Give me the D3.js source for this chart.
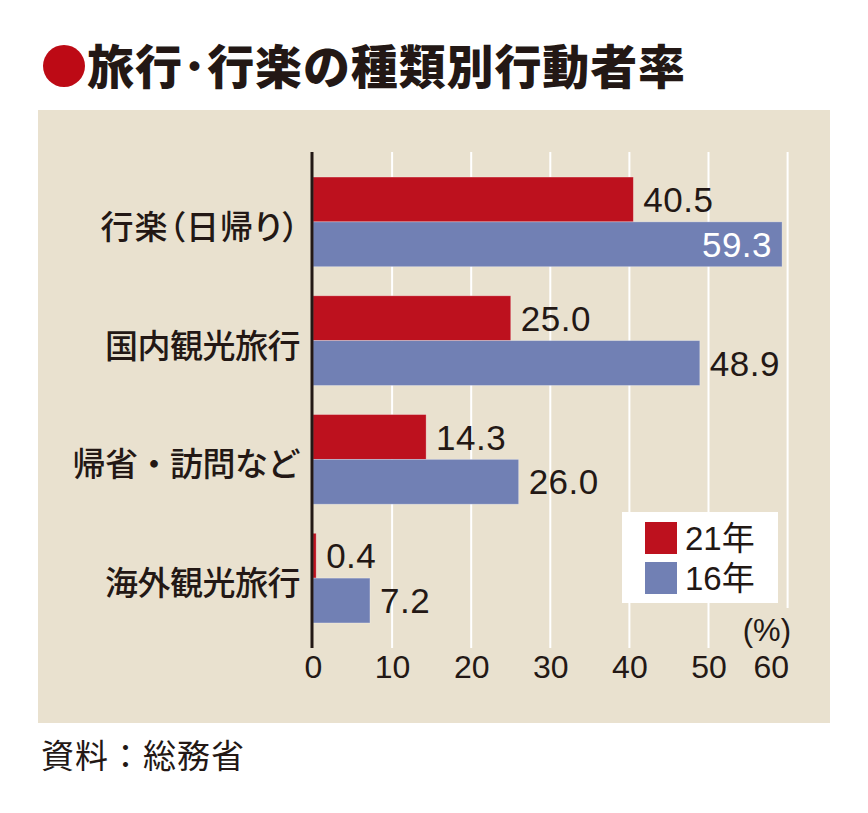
<!DOCTYPE html>
<html>
<head>
<meta charset="utf-8">
<script src="https://cdn.jsdelivr.net/npm/d3@7"></script>
<style>
  body { margin: 0; background: #fff; }
  text { fill: #231815; }
</style>
</head>
<body>
<div id="chart"></div>
<script>
// Data
var categories = ['行楽（日帰り）', '国内観光旅行', '帰省・訪問など', '海外観光旅行'];
var seriesNames = ['21年', '16年'];
var values21 = [40.5, 25.0, 14.3, 0.4];
var values16 = [59.3, 48.9, 26.0, 7.2];
var tickValues = [0, 10, 20, 30, 40, 50, 60];
var titleText = '旅行･行楽の種類別行動者率';
var unitText = '(%)';
var sourceText = '資料：総務省';

var colors = ['#bd111e', '#7180b4'];
var numFont = '"Liberation Sans", Arial, sans-serif';
var jpFont = '"Noto Sans CJK JP", sans-serif';

var svg = d3.select('#chart').append('svg')
  .attr('width', 868)
  .attr('height', 813);

// Title
svg.append('circle')
  .attr('cx', 64)
  .attr('cy', 66)
  .attr('r', 21)
  .attr('fill', '#bd0a15');

svg.append('text')
  .attr('x', 87)
  .attr('y', 84)
  .attr('textLength', 598)
  .attr('lengthAdjust', 'spacing')
  .style('font-family', jpFont)
  .style('font-weight', 900)
  .style('font-size', '47px')
  .text(titleText);

// Beige panel
svg.append('rect')
  .attr('x', 38)
  .attr('y', 110)
  .attr('width', 792)
  .attr('height', 613)
  .attr('fill', '#e9e1cf');

// Scales
var x = d3.scaleLinear().domain([0, 60]).range([313, 787.6]);
var y = d3.scaleBand().domain(categories).range([162.5, 637.5]).paddingInner(0.245).paddingOuter(0.1225);
var ySub = d3.scaleBand().domain(seriesNames).range([0, y.bandwidth()]);

// Grid lines
svg.append('g').selectAll('line')
  .data(tickValues.slice(1))
  .enter().append('line')
  .attr('x1', function(d) { return x(d); })
  .attr('x2', function(d) { return x(d); })
  .attr('y1', 152)
  .attr('y2', function(d) { return d === 60 ? 608 : 648; })
  .attr('stroke', '#fff')
  .attr('stroke-width', 2);

// Bars
var rows = categories.map(function(c, i) {
  return {cat: c, vals: [values21[i], values16[i]]};
});

var group = svg.selectAll('.row')
  .data(rows)
  .enter().append('g')
  .attr('class', 'row')
  .attr('transform', function(d) { return 'translate(0,' + y(d.cat) + ')'; });

var cells = group.selectAll('.cell')
  .data(function(d) {
    return d.vals.map(function(v, j) { return {name: seriesNames[j], value: v, idx: j}; });
  })
  .enter().append('g')
  .attr('class', 'cell');

cells.append('rect')
  .attr('x', x(0))
  .attr('y', function(d) { return ySub(d.name); })
  .attr('width', function(d) { return x(d.value) - x(0); })
  .attr('height', ySub.bandwidth())
  .attr('fill', function(d) { return colors[d.idx]; })
  .attr('stroke', 'rgba(255,255,255,0.35)')
  .attr('stroke-width', 0.8);

// Value labels (inside the bar when it would run past the plot)
cells.append('text')
  .attr('x', function(d) { return d.value > 55 ? x(d.value) - 10 : x(d.value) + 10; })
  .attr('y', function(d) { return ySub(d.name) + ySub.bandwidth() / 2; })
  .attr('dy', '0.36em')
  .attr('text-anchor', function(d) { return d.value > 55 ? 'end' : 'start'; })
  .style('font-family', numFont)
  .style('font-size', '35px')
  .style('letter-spacing', '0.5px')
  .style('fill', function(d) { return d.value > 55 ? '#fff' : '#231815'; })
  .text(function(d) { return d.value.toFixed(1); });

// Category labels (parens set proportionally)
svg.append('g').selectAll('text')
  .data(categories)
  .enter().append('text')
  .attr('x', 300)
  .attr('y', function(d) { return y(d) + y.bandwidth() / 2 + 3; })
  .attr('text-anchor', 'end')
  .attr('dominant-baseline', 'central')
  .style('font-family', jpFont)
  .style('font-weight', 500)
  .style('font-size', '33px')
  .style('font-feature-settings', function(d) { return d.indexOf('（') >= 0 ? '"palt"' : 'normal'; })
  .style('letter-spacing', function(d) { return d.indexOf('（') >= 0 ? '1px' : '-0.5px'; })
  .text(function(d) { return d; });

// Axis line
svg.append('line')
  .attr('x1', x(0) - 1)
  .attr('x2', x(0) - 1)
  .attr('y1', 152)
  .attr('y2', 648)
  .attr('stroke', '#231815')
  .attr('stroke-width', 3);

// X tick labels
var xAxis = d3.axisBottom(x).tickValues(tickValues).tickSize(0).tickPadding(0);
var axisG = svg.append('g')
  .attr('transform', 'translate(0,652)')
  .call(xAxis);
axisG.select('.domain').remove();
axisG.selectAll('text')
  .attr('y', 26)
  .attr('dy', 0)
  .style('font-family', numFont)
  .style('font-size', '32px')
  .style('fill', '#231815')
  .attr('text-anchor', function(d) { return d === 60 ? 'end' : 'middle'; })
  .attr('x', function(d) { return d === 60 ? 1 : 0; });

// Unit label
svg.append('text')
  .attr('x', 791)
  .attr('y', 641)
  .attr('text-anchor', 'end')
  .style('font-family', numFont)
  .style('font-size', '31px')
  .text(unitText);

// Legend
var legend = svg.append('g').attr('transform', 'translate(622,512)');
legend.append('rect')
  .attr('width', 156)
  .attr('height', 91)
  .attr('fill', '#fff');

var items = legend.selectAll('.item')
  .data(seriesNames)
  .enter().append('g')
  .attr('class', 'item')
  .attr('transform', function(d, i) { return 'translate(23,' + (10 + i * 40) + ')'; });

items.append('rect')
  .attr('width', 32)
  .attr('height', 32)
  .attr('fill', function(d, i) { return colors[i]; });

items.append('text')
  .attr('x', 40)
  .attr('y', 28)
  .style('font-family', numFont + ', ' + jpFont)
  .style('font-size', '33px')
  .text(function(d) { return d; });

// Source
svg.append('text')
  .attr('x', 41)
  .attr('y', 754)
  .attr('dominant-baseline', 'central')
  .style('font-family', jpFont)
  .style('font-size', '33px')
  .style('letter-spacing', '1px')
  .text(sourceText);
</script>
</body>
</html>
